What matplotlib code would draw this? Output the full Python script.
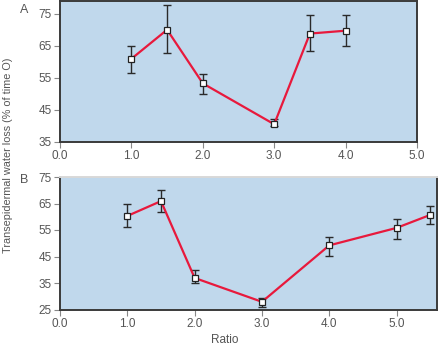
import matplotlib
matplotlib.use("Agg")
import matplotlib.pyplot as plt
from matplotlib import font_manager

# Panel A data
ratio_a = [1.0, 1.5, 2.0, 3.0, 3.5, 4.0]
tewl_a = [60.9, 70.0, 53.2, 40.4, 68.8, 69.7]
err_lo_a = [4.5, 7.3, 3.3, 0.7, 5.4, 4.8]
err_hi_a = [4.1, 7.6, 2.9, 1.5, 5.7, 4.8]

# Panel B data
ratio_b = [1.0, 1.5, 2.0, 3.0, 4.0, 5.0, 5.5]
tewl_b = [60.3, 65.9, 36.9, 27.9, 49.2, 55.8, 60.7]
err_lo_b = [4.3, 4.0, 1.8, 2.0, 3.9, 4.1, 3.4]
err_hi_b = [4.5, 4.2, 2.9, 1.6, 3.2, 3.5, 3.3]

yticks_a = [35, 45, 55, 65, 75]
yticks_b = [25, 35, 45, 55, 65, 75]
xticks_a = [0.0, 1.0, 2.0, 3.0, 4.0, 5.0]
xticks_b = [0.0, 1.0, 2.0, 3.0, 4.0, 5.0]

names = {f.name for f in font_manager.fontManager.ttflist}
family = "Liberation Sans Narrow" if "Liberation Sans Narrow" in names else "Liberation Sans"
plt.rcParams["font.family"] = [family, "DejaVu Sans"]

W, H = 438, 349
fig = plt.figure(figsize=(W / 100, H / 100), dpi=100)
fig.patch.set_facecolor("white")

BG = "#c0d8ec"
LINE = "#e8193c"
TXT = "#555555"
SPINE = "#3a3a3a"


def px_axes(x0, y0, x1, y1):
    return fig.add_axes([x0 / W, 1 - y1 / H, (x1 - x0) / W, (y1 - y0) / H])


def style(ax, xlim, ylim, xticks, yticks, top_color):
    ax.set_facecolor(BG)
    ax.set_xlim(*xlim)
    ax.set_ylim(*ylim)
    ax.set_xticks(xticks)
    ax.set_xticklabels([f"{t:.1f}" for t in xticks])
    ax.set_yticks(yticks)
    ax.set_yticklabels([str(t) for t in yticks])
    ax.tick_params(direction="out", length=4, width=0.8, color="#888888",
                   labelsize=8.5, labelcolor=TXT, pad=2)
    for s in ["left", "bottom", "right"]:
        ax.spines[s].set_color(SPINE)
        ax.spines[s].set_linewidth(1.4)
    ax.spines["top"].set_color(top_color)
    ax.spines["top"].set_linewidth(1.4)


def draw(ax, x, y, lo, hi):
    ax.errorbar(x, y, yerr=[lo, hi], fmt="none", ecolor="#2a2a2a",
                elinewidth=1.0, capsize=3, capthick=1.0, zorder=2)
    ax.plot(x, y, color=LINE, lw=1.6, zorder=3)
    ax.plot(x, y, ls="none", marker="s", ms=5, mfc="white", mec="#222222",
            mew=0.9, zorder=4)


ax_a = px_axes(60, 1, 417, 141.5)
style(ax_a, (0, 5), (35, 79), xticks_a, yticks_a, SPINE)
draw(ax_a, ratio_a, tewl_a, err_lo_a, err_hi_a)

ax_b = px_axes(60, 177, 437, 309.5)
style(ax_b, (0, 5.6), (25, 75), xticks_b, yticks_b, "#d8d8d8")
draw(ax_b, ratio_b, tewl_b, err_lo_b, err_hi_b)

fig.text(24 / W, 1 - 10 / H, "A", fontsize=9, color=TXT, ha="center", va="center")
fig.text(24 / W, 1 - 180 / H, "B", fontsize=9, color=TXT, ha="center", va="center")
fig.text(8 / W, 1 - 155 / H, "Transepidermal water loss (% of time O)", fontsize=7.8,
         color=TXT, rotation=90, ha="center", va="center")
fig.text(225 / W, 1 - 340 / H, "Ratio", fontsize=8.5, color=TXT, ha="center", va="center")

fig.savefig("out.png", dpi=100)
